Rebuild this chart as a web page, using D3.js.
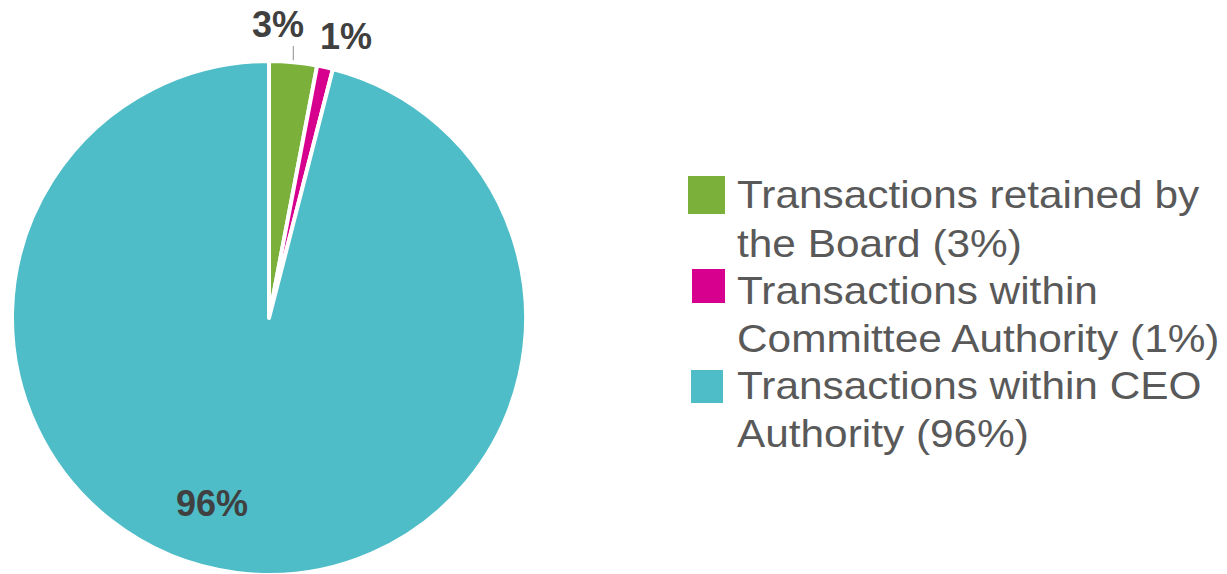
<!DOCTYPE html>
<html>
<head>
<meta charset="utf-8">
<script src="https://cdn.jsdelivr.net/npm/d3@7"></script>
<style>
  html, body { margin: 0; padding: 0; background: #ffffff; }
  svg { display: block; }
</style>
</head>
<body>
<svg id="chart" width="1227" height="574"></svg>
<script>
// Share of transactions by approval authority
const categories = [
  "Transactions retained by the Board",
  "Transactions within Committee Authority",
  "Transactions within CEO Authority"
];
const shares = [3, 1, 96];
const legendLines = [
  ["Transactions retained by", "the Board (3%)"],
  ["Transactions within", "Committee Authority (1%)"],
  ["Transactions within CEO", "Authority (96%)"]
];
const colors = ["#7BB13A", "#D7008E", "#4FBDC8"];

const svg = d3.select("#chart");
const cx = 269, cy = 318, radius = 257;

const pie = d3.pie().sort(null).value(d => d);
const arcs = pie(shares);
const arc = d3.arc().innerRadius(0).outerRadius(radius);

const g = svg.append("g").attr("transform", `translate(${cx},${cy})`);

g.selectAll("path.slice")
  .data(arcs)
  .join("path")
  .attr("class", "slice")
  .attr("d", arc)
  .attr("fill", (d, i) => colors[i])
  .attr("stroke", "#ffffff")
  .attr("stroke-width", 4)
  .attr("stroke-linejoin", "round");

// Data labels: placed outside for the thin slices, inside for the big one
const labelPos = [
  { x: 278 - cx, y: 37 - cy, leader: true },
  { x: 346 - cx, y: 49 - cy, leader: false },
  { x: 212 - cx, y: 516 - cy, leader: false }
];

arcs.forEach((d, i) => {
  const p = labelPos[i];
  if (p.leader) {
    const a = (d.startAngle + d.endAngle) / 2;
    const ex = Math.sin(a) * (radius + 2);
    const ey = -Math.cos(a) * (radius + 2);
    g.append("line")
      .attr("x1", ex).attr("y1", ey)
      .attr("x2", ex).attr("y2", p.y + 9)
      .attr("stroke", "#a6a6a6")
      .attr("stroke-width", 1.3);
  }
  g.append("text")
    .attr("x", p.x)
    .attr("y", p.y)
    .attr("text-anchor", "middle")
    .attr("font-family", "Liberation Sans, Arial, sans-serif")
    .attr("font-weight", "bold")
    .attr("font-size", 36)
    .attr("fill", "#404040")
    .text(d.data + "%");
});

// Legend
const legendRows = [
  { sq: [688, 176, 37, 38], base: [208, 257] },
  { sq: [692, 269, 33, 34], base: [304, 352] },
  { sq: [691, 370, 32, 33], base: [399, 447] }
];
const legend = svg.append("g").attr("class", "legend");
categories.forEach((c, i) => {
  const r = legendRows[i];
  legend.append("rect")
    .attr("x", r.sq[0]).attr("y", r.sq[1])
    .attr("width", r.sq[2]).attr("height", r.sq[3])
    .attr("fill", colors[i]);
  const t = legend.append("text")
    .attr("transform", "translate(737,0) scale(1.1,1)")
    .attr("font-family", "Liberation Sans, Arial, sans-serif")
    .attr("font-size", 38.5)
    .attr("fill", "#595959");
  legendLines[i].forEach((line, j) => {
    t.append("tspan").attr("x", 0).attr("y", r.base[j]).text(line);
  });
});
</script>
</body>
</html>
